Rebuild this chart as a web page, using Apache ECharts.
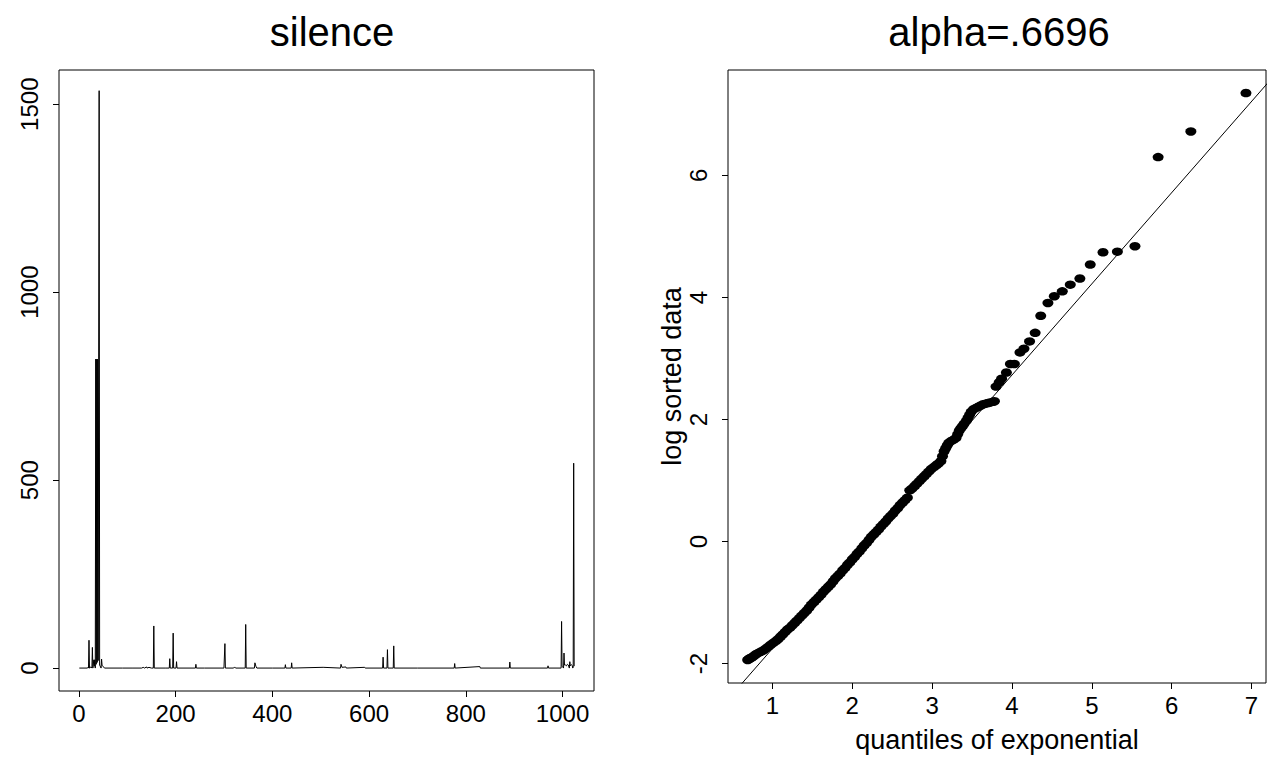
<!DOCTYPE html>
<html>
<head>
<meta charset="utf-8">
<script src="https://cdn.jsdelivr.net/npm/echarts@6/dist/echarts.min.js"></script>
<style>
  html, body { margin: 0; padding: 0; background: #fff; }
  #chart { width: 1269px; height: 758px; }
</style>
</head>
<body>
<div id="chart"></div>
<script>
// silence series: index / value pairs (baseline points included)
var silenceIdx = [1, 18, 19, 20, 21, 22, 25, 27, 28, 29, 31, 32, 33, 34, 35, 36, 37, 38, 39, 40, 41, 42, 43, 46, 47, 48, 49, 51, 53,
  90, 91, 110, 130, 133, 136, 140, 141, 145, 150, 154, 155, 156, 180, 187, 188, 189, 194, 195, 196, 201, 202, 203,
  241, 242, 243, 260, 300, 302, 303, 320, 322, 324, 344, 345, 346, 363, 364, 366, 368, 400, 426, 427, 428, 439, 440, 441,
  505, 541, 542, 544, 552, 553, 591, 592, 628, 629, 630, 637, 638, 639, 650, 651, 652, 700, 776, 777, 778, 829, 830,
  890, 891, 892, 969, 970, 971, 997, 998, 999, 1002, 1003, 1004, 1006, 1008, 1010, 1012, 1014, 1015, 1016, 1018, 1020,
  1021, 1022, 1023, 1024];
var silenceVal = [0, 0, 2, 0, 74, 0, 3, 0, 55, 0, 22, 5, 22, 0, 822, 10, 822, 15, 822, 20, 822, 1536, 8, 0, 24, 8, 6, 3, 0,
  0, 1, 0, 0, 2, 0, 3, 0, 2, 0, 0, 112, 0, 0, 0, 25, 0, 0, 93, 0, 0, 17, 0,
  0, 10, 0, 0, 0, 65, 0, 0, 3, 0, 0, 116, 0, 0, 14, 5, 0, 0, 0, 9, 0, 0, 14, 0,
  2, 0, 10, 2, 3, 0, 2, 0, 0, 29, 0, 0, 49, 0, 0, 59, 0, 0, 0, 12, 0, 4, 0,
  0, 16, 0, 0, 6, 0, 0, 124, 5, 0, 40, 8, 8, 6, 10, 8, 0, 17, 6, 9, 7,
  0, 2, 545, 5];

// QQ plot: quantiles of exponential vs log sorted data
var qqX = [0.69, 0.70, 0.71, 0.72, 0.74, 0.76, 0.78, 0.80, 0.83, 0.86, 0.89, 0.92, 0.95, 0.98, 1.01, 1.04, 1.07, 1.10,
  1.13, 1.16, 1.19, 1.22, 1.25, 1.28, 1.31, 1.34, 1.37, 1.40, 1.43, 1.46, 1.49, 1.52, 1.55, 1.58, 1.61, 1.64, 1.67,
  1.70, 1.73, 1.76, 1.79, 1.82, 1.85, 1.88, 1.91, 1.94, 1.97, 2.00, 2.03, 2.06, 2.09, 2.12, 2.15, 2.18, 2.21, 2.24,
  2.27, 2.30, 2.33, 2.36, 2.39, 2.42, 2.45, 2.48, 2.51, 2.54, 2.57, 2.60, 2.63, 2.66, 2.69, 2.72, 2.75, 2.78, 2.81,
  2.84, 2.87, 2.90, 2.93, 2.96, 2.99, 3.02, 3.05, 3.08, 3.11, 3.13, 3.15, 3.17, 3.19, 3.21, 3.24, 3.27, 3.30, 3.32,
  3.34, 3.36, 3.38, 3.40, 3.43, 3.45, 3.47, 3.49, 3.52, 3.55, 3.58, 3.61, 3.64, 3.67, 3.70, 3.73, 3.76, 3.78,
  3.80, 3.84, 3.87, 3.93, 3.98, 4.03, 4.10, 4.15, 4.22, 4.29, 4.36, 4.45, 4.53, 4.63, 4.73, 4.85, 4.98, 5.14, 5.32,
  5.54, 5.83, 6.24, 6.93];
var qqY = [-1.94, -1.93, -1.92, -1.91, -1.90, -1.88, -1.86, -1.84, -1.82, -1.80, -1.78, -1.75, -1.72, -1.69, -1.66, -1.63,
  -1.60, -1.56, -1.52, -1.48, -1.44, -1.41, -1.37, -1.33, -1.29, -1.25, -1.21, -1.17, -1.13, -1.08, -1.03, -0.99, -0.95,
  -0.91, -0.87, -0.82, -0.78, -0.74, -0.70, -0.65, -0.60, -0.56, -0.52, -0.47, -0.43, -0.38, -0.34, -0.29, -0.25, -0.20,
  -0.16, -0.11, -0.06, -0.02, 0.03, 0.08, 0.12, 0.16, 0.20, 0.25, 0.29, 0.33, 0.38, 0.42, 0.46, 0.51, 0.55, 0.60, 0.64,
  0.68, 0.72, 0.84, 0.87, 0.91, 0.95, 0.99, 1.03, 1.07, 1.11, 1.15, 1.19, 1.22, 1.25, 1.28, 1.32, 1.40, 1.48, 1.53, 1.58,
  1.62, 1.65, 1.67, 1.70, 1.76, 1.82, 1.86, 1.89, 1.93, 1.98, 2.03, 2.08, 2.13, 2.17, 2.19, 2.21, 2.23, 2.25, 2.26, 2.27,
  2.28, 2.29, 2.30,
  2.54, 2.61, 2.67, 2.77, 2.91, 2.91, 3.10, 3.16, 3.28, 3.42, 3.70, 3.91, 4.02, 4.10, 4.21, 4.31, 4.54, 4.74, 4.75,
  4.84, 6.30, 6.72, 7.35];

// reference line (slope 1/alpha) end points
var refX = [0.40, 7.30];
var refY = [-2.65, 7.66];

var leftTicksX = [0, 200, 400, 600, 800, 1000];
var leftTicksY = [0, 500, 1000, 1500];
var rightTicksX = [1, 2, 3, 4, 5, 6, 7];
var rightTicksY = [-2, 0, 2, 4, 6];

var FONT = '"Liberation Sans", Arial, Helvetica, sans-serif';

var chart = echarts.init(document.getElementById('chart'), null, { renderer: 'svg' });

function pairs(xs, ys) {
  var out = [];
  for (var i = 0; i < xs.length; i++) out.push([xs[i], ys[i]]);
  return out;
}
function plain(v) { return String(v); }

function xAx(idx, min, max, ticks, name) {
  return {
    type: 'value', gridIndex: idx, min: min, max: max,
    axisLine: { show: false, onZero: false },
    splitLine: { show: false },
    axisTick: { show: true, inside: false, length: 6, customValues: ticks, lineStyle: { color: '#000', width: 1 } },
    axisLabel: { customValues: ticks, formatter: plain, color: '#000', fontSize: 24, fontFamily: FONT, margin: 10 },
    name: name || '', nameLocation: 'middle', nameGap: 43,
    nameTextStyle: { color: '#000', fontSize: 27, fontFamily: FONT }
  };
}
function yAx(idx, min, max, ticks, name) {
  return {
    type: 'value', gridIndex: idx, min: min, max: max,
    axisLine: { show: false, onZero: false },
    splitLine: { show: false },
    axisTick: { show: true, inside: false, length: 6, customValues: ticks, lineStyle: { color: '#000', width: 1 } },
    axisLabel: { customValues: ticks, formatter: plain, color: '#000', fontSize: 24, fontFamily: FONT, margin: 18, rotate: 90 },
    name: name || '', nameLocation: 'middle', nameGap: 37, nameRotate: 90,
    nameTextStyle: { color: '#000', fontSize: 27, fontFamily: FONT }
  };
}

chart.setOption({
  animation: false,
  backgroundColor: '#fff',
  title: [
    { text: 'silence', left: 327, top: 7, textAlign: 'center',
      textStyle: { color: '#000', fontSize: 40, fontWeight: 'normal', fontFamily: FONT } },
    { text: 'alpha=.6696', left: 994, top: 7, textAlign: 'center',
      textStyle: { color: '#000', fontSize: 40, fontWeight: 'normal', fontFamily: FONT } }
  ],
  grid: [
    { left: 59, top: 70, width: 535, height: 621, show: true, borderColor: '#000', borderWidth: 1, backgroundColor: 'transparent' },
    { left: 728, top: 70, width: 538, height: 622, show: true, borderColor: '#000', borderWidth: 1, backgroundColor: 'transparent' }
  ],
  xAxis: [
    xAx(0, -41, 1065, leftTicksX),
    xAx(1, 0.4436, 7.181, rightTicksX, 'quantiles of exponential')
  ],
  yAxis: [
    yAx(0, -61, 1591, leftTicksY),
    yAx(1, -2.317, 7.727, rightTicksY, 'log sorted data')
  ],
  series: [
    {
      type: 'line', xAxisIndex: 0, yAxisIndex: 0,
      data: pairs(silenceIdx, silenceVal),
      showSymbol: false, symbol: 'none',
      lineStyle: { color: '#000', width: 1 },
      sampling: null
    },
    {
      type: 'scatter', xAxisIndex: 1, yAxisIndex: 1,
      data: pairs(qqX, qqY),
      symbol: 'circle', symbolSize: [11, 8.5],
      itemStyle: { color: '#000', opacity: 1 }
    },
    {
      type: 'line', xAxisIndex: 1, yAxisIndex: 1,
      data: pairs(refX, refY),
      showSymbol: false, symbol: 'none', clip: true,
      lineStyle: { color: '#000', width: 1 }
    }
  ]
});
</script>
</body>
</html>
